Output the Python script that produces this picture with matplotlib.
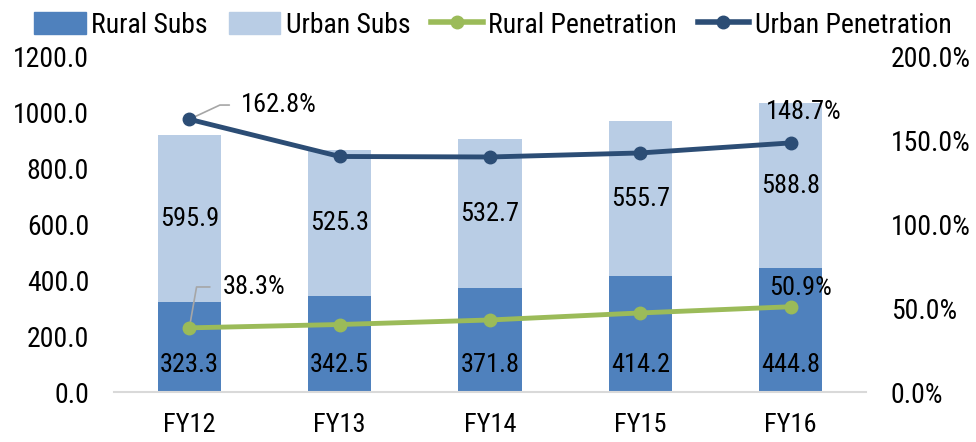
import matplotlib
matplotlib.use("Agg")
import matplotlib.pyplot as plt
from matplotlib.lines import Line2D
from matplotlib.patches import Patch
import numpy as np

categories = ["FY12", "FY13", "FY14", "FY15", "FY16"]
rural_subs = [323.3, 342.5, 371.8, 414.2, 444.8]
urban_subs = [595.9, 525.3, 532.7, 555.7, 588.8]
rural_pen = [38.3, 40.3, 43.0, 47.2, 50.9]
urban_pen = [162.8, 140.6, 140.3, 142.7, 148.7]
left_ticks = [0, 200, 400, 600, 800, 1000, 1200]
right_ticks = [0, 50, 100, 150, 200]

FONT = ["Roboto Condensed", "IBM Plex Sans Condensed", "Liberation Sans Narrow", "DejaVu Sans"]
plt.rcParams["font.family"] = FONT

c_rural = "#4F81BD"
c_urban = "#B9CDE5"
c_rpen = "#9BBB59"
c_upen = "#2C4D75"

fig = plt.figure(figsize=(9.76, 4.42), dpi=100)
ax = fig.add_axes([0.117, 0.1131, 0.77, 0.758])
ax2 = ax.twinx()

x = np.arange(len(categories))
w = 0.42
ax.bar(x, rural_subs, w, color=c_rural, zorder=2)
ax.bar(x, urban_subs, w, bottom=rural_subs, color=c_urban, zorder=2)

fs = 19
tfs = 20
for i in range(len(categories)):
    # rural labels sit near the base of the bar (inside base)
    ax.annotate(f"{rural_subs[i]:.1f}", xy=(x[i], 0), xytext=(0, 19.5), textcoords="offset points",
                ha="center", va="center", fontsize=fs, color="black", zorder=3)
    ax.text(x[i], rural_subs[i] + urban_subs[i] / 2, f"{urban_subs[i]:.1f}", ha="center", va="center",
            fontsize=fs, color="black", zorder=3)

ax.set_xlim(-0.5, len(categories) - 0.5)
ax.set_ylim(0, 1200)
ax.set_yticks(left_ticks)
ax.set_yticklabels([f"{v:.1f}" for v in left_ticks], fontsize=tfs)
ax.set_xticks(x)
ax.set_xticklabels(categories, fontsize=fs)
ax.tick_params(axis="x", length=0, pad=15)
ax.tick_params(axis="y", length=0, pad=18)
for s in ["top", "left", "right"]:
    ax.spines[s].set_visible(False)
ax.spines["bottom"].set_color("#D9D9D9")
ax.spines["bottom"].set_linewidth(1.5)

ax2.plot(x, rural_pen, color=c_rpen, lw=3.5, marker="o", ms=9, zorder=4)
ax2.plot(x, urban_pen, color=c_upen, lw=3.5, marker="o", ms=9, zorder=4)
ax2.set_ylim(0, 200)
ax2.set_yticks(right_ticks)
ax2.set_yticklabels([f"{v:.1f}%" for v in right_ticks], fontsize=tfs)
ax2.tick_params(axis="y", length=0, pad=18)
for s in ["top", "left", "right", "bottom"]:
    ax2.spines[s].set_visible(False)

# data labels on first and last points
ax2.annotate(f"{urban_pen[0]:.1f}%", xy=(x[0], urban_pen[0]), xytext=(x[0] + 0.34, urban_pen[0] + 8.5),
             fontsize=fs, va="center", ha="left",
             arrowprops=dict(arrowstyle="-", color="#A6A6A6", lw=1.2, shrinkA=6, shrinkB=2,
                             connectionstyle="angle,angleA=0,angleB=25,rad=0"))
ax2.annotate(f"{rural_pen[0]:.1f}%", xy=(x[0], rural_pen[0]), xytext=(x[0] + 0.22, rural_pen[0] + 24.4),
             fontsize=fs, va="center", ha="left",
             arrowprops=dict(arrowstyle="-", color="#A6A6A6", lw=1.2, shrinkA=7, shrinkB=2,
                             connectionstyle="angle,angleA=0,angleB=80,rad=0"))
ax2.text(x[-1] + 0.09, urban_pen[-1] + 18.5, f"{urban_pen[-1]:.1f}%", fontsize=fs, ha="center", va="center")
ax2.text(x[-1] + 0.065, rural_pen[-1] + 11, f"{rural_pen[-1]:.1f}%", fontsize=fs, ha="center", va="center")

handles = [
    Patch(color=c_rural, label="Rural Subs"),
    Patch(color=c_urban, label="Urban Subs"),
    Line2D([], [], color=c_rpen, lw=4, marker="o", ms=9, label="Rural Penetration"),
    Line2D([], [], color=c_upen, lw=4, marker="o", ms=9, label="Urban Penetration"),
]
fig.legend(handles=handles, loc="upper center", bbox_to_anchor=(0.505, 1.03), ncol=4, frameon=False,
           fontsize=20, handlelength=1.85, handletextpad=0.2, columnspacing=0.75, handleheight=0.85)

fig.savefig("out.png", dpi=100)
